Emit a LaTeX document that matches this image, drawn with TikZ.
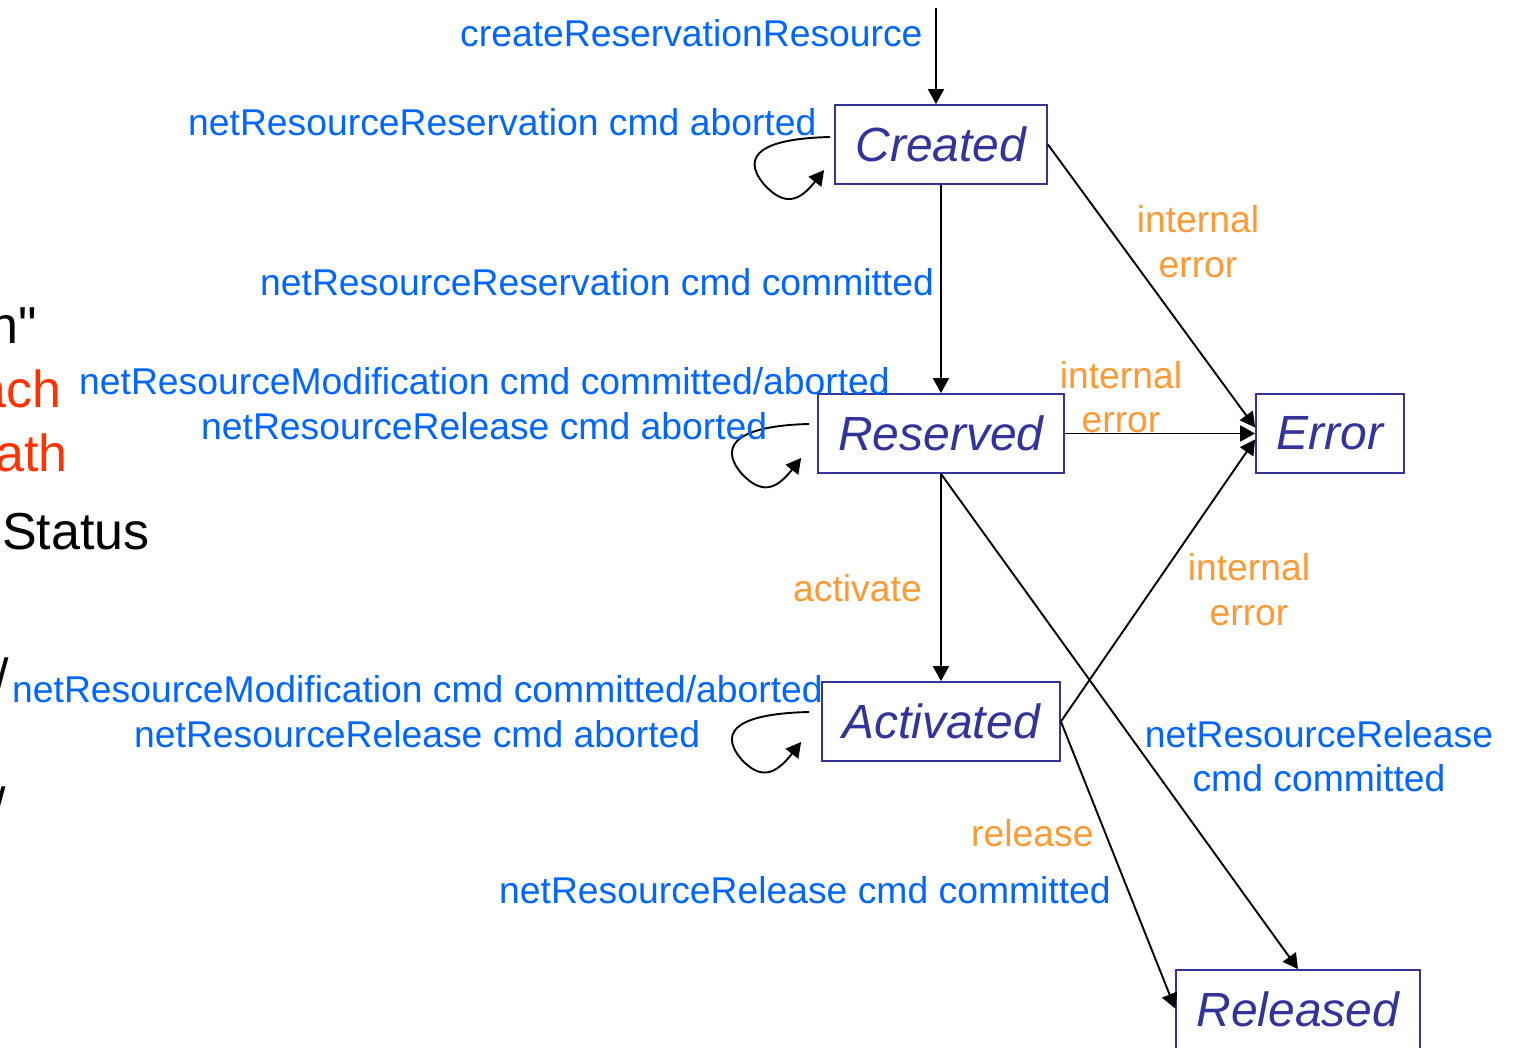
\documentclass[tikz,border=0pt]{standalone}
\usepackage{fontspec}
\setmainfont{Liberation Sans}
\newfontfamily\rawsans{Liberation Sans}[Ligatures=TeXOff]
\usetikzlibrary{arrows.meta,calc}
\definecolor{statecol}{HTML}{333399}
\definecolor{evblue}{HTML}{0066FF}
\definecolor{everr}{HTML}{FF9933}
\definecolor{slidered}{HTML}{FF3300}
\begin{document}
\begin{tikzpicture}[x=1pt,y=-1pt,
  state/.style={draw=statecol, line width=1.8pt, text=statecol,
    font=\fontsize{48}{56}\selectfont\itshape, minimum height=79pt, inner sep=0pt},
  ev/.style={text=evblue, font=\fontsize{37.3}{45}\selectfont, inner sep=0pt},
  errlbl/.style={text=everr, font=\fontsize{37.3}{45}\selectfont, inner sep=0pt},
  slidetxt/.style={font=\rawsans\fontsize{52}{62}\selectfont, inner sep=0pt},
  trans/.style={draw=black, line width=1.9pt, -{Triangle[length=15pt,width=16pt]}},
  selfloop/.style={trans}]

\path[use as bounding box] (0,0) rectangle (1515,1047);
\clip (0,0) rectangle (1515,1047);
\fill[white] (0,0) rectangle (1515,1047);

% left-hand slide text running off the edge
\node[slidetxt, anchor=base east] (sl1) at (37,343) {n"};
\node[slidetxt, anchor=base east, text=slidered] (sl2) at (62,407) {ach};
\node[slidetxt, anchor=base east, text=slidered] (sl3) at (68,471) {ath};
\node[slidetxt, anchor=base west] (sl4) at (2,549) {Status};
\node[slidetxt, anchor=base east] (sl5) at (9,695) {/};
\node[slidetxt, anchor=base east] (sl6) at (6,824) {/};

% states
\node[state, minimum width=212pt] (created)   at (941,144.5)  {Created};
\node[state, minimum width=246pt] (reserved)  at (941,433.5)  {Reserved};
\node[state, minimum width=148pt] (error)     at (1330,433.5) {Error};
\node[state, minimum width=238pt] (activated) at (941,721.5)  {Activated};
\node[state, minimum width=244pt] (released)  at (1298,1009.5){Released};

% transitions
\coordinate (init) at (936,8);
\draw[trans] (init) -- ([shift={(-5,0)}]created.north);
\draw[trans] (created.south) -- (reserved.north);
\draw[trans] (reserved.south) -- (activated.north);
\draw[trans] (created.east) -- ([shift={(0,-6)}]error.west);
\draw[trans] (reserved.east) -- (error.west);
\draw[trans] (activated.east) -- ([shift={(0,6)}]error.west);
\draw[trans] (reserved.south) -- (released.north);
\draw[trans] (activated.east) -- ([shift={(0,-1)}]released.west);

% self loops
\draw[selfloop] ([shift={(-4,-7.5)}]created.west)
  .. controls +(-66,1.5) and +(-25,-30) .. ++(-66,47.5)
  .. controls +(20,22) and +(-25,32) .. ++(60,-14.5);
\draw[selfloop] ([shift={(-8,-9.5)}]reserved.west)
  .. controls +(-66,1.5) and +(-25,-30) .. ++(-68,49)
  .. controls +(20,22) and +(-25,32) .. ++(60,-15);
\draw[selfloop] ([shift={(-12,-9.5)}]activated.west)
  .. controls +(-66,1.5) and +(-25,-30) .. ++(-68,47)
  .. controls +(20,22) and +(-25,32) .. ++(60,-17);

% event labels
\node[ev, anchor=base west] (l1) at (460,46) {createReservationResource};
\node[ev, anchor=base west] (l2) at (188,135) {netResourceReservation cmd aborted};
\node[ev, anchor=base west] (l3) at (260,295) {netResourceReservation cmd committed};
\node[ev, anchor=base west] (l4) at (79,394) {netResourceModification cmd committed/aborted};
\node[ev, anchor=base west] (l5) at (201,439) {netResourceRelease cmd aborted};
\node[ev, anchor=base west] (l6) at (12,702) {netResourceModification cmd committed/aborted};
\node[ev, anchor=base west] (l7) at (134,747) {netResourceRelease cmd aborted};
\node[ev, anchor=base west] (l8) at (499,903) {netResourceRelease cmd committed};
\node[ev, anchor=base] (l9a) at (1319,747) {netResourceRelease};
\node[ev, anchor=base] (l9b) at (1319,791) {cmd committed};

\node[errlbl, anchor=base] (e1a) at (1198,232) {internal};
\node[errlbl, anchor=base] (e1b) at (1198,277) {error};
\node[errlbl, anchor=base] (e2a) at (1121,388) {internal};
\node[errlbl, anchor=base] (e2b) at (1121,432) {error};
\node[errlbl, anchor=base] (e3a) at (1249,580) {internal};
\node[errlbl, anchor=base] (e3b) at (1249,625) {error};
\node[errlbl, anchor=base west] (a1) at (793,601) {activate};
\node[errlbl, anchor=base west] (r1) at (971,846) {release};
\end{tikzpicture}
\end{document}
